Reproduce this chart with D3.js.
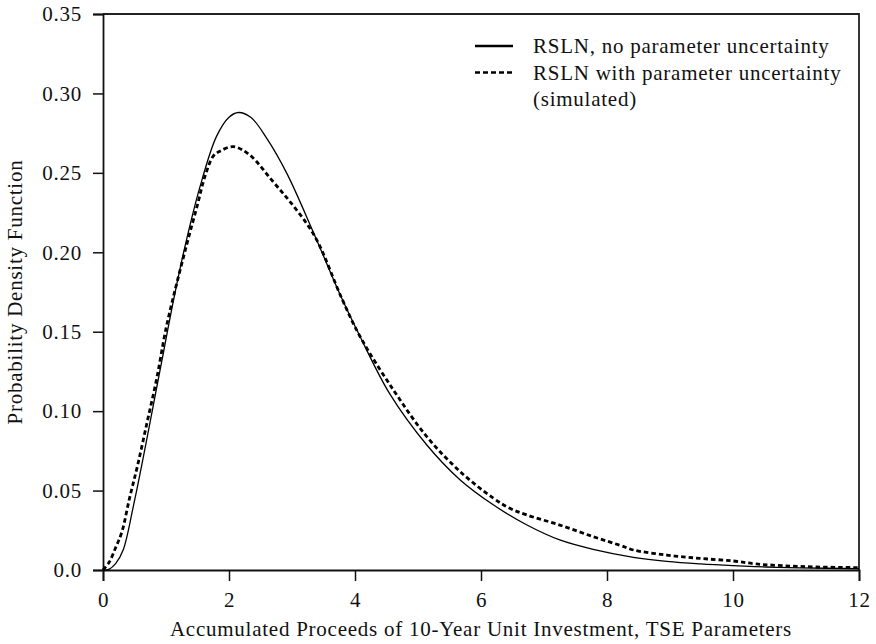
<!DOCTYPE html>
<html>
<head>
<meta charset="utf-8">
<script src="https://cdn.jsdelivr.net/npm/d3@7/dist/d3.min.js"></script>
<style>
  body { margin: 0; background: #fff; }
  text { font-family: "Liberation Serif", "Times New Roman", serif; fill: #111; letter-spacing: 0.75px; }
</style>
</head>
<body>
<div id="chart"></div>
<script>
// RSLN, no parameter uncertainty (solid)
var solidX = [0, 0.1, 0.2, 0.32, 0.48, 0.64, 0.8, 0.96, 1.1, 1.28, 1.54, 1.8, 2.0, 2.15, 2.35, 2.6, 2.92, 3.34, 3.79, 4.08, 4.55, 5.14, 5.67, 6.2, 6.73, 7.25, 7.78, 8.42, 8.95, 9.48, 10, 10.53, 11.06, 12];
var solidY = [0, 0.0006, 0.004, 0.0126, 0.0398, 0.071, 0.104, 0.137, 0.166, 0.2, 0.2413, 0.2728, 0.285, 0.288, 0.2848, 0.2717, 0.2495, 0.2125, 0.171, 0.147, 0.111, 0.0787, 0.0567, 0.0409, 0.0283, 0.0189, 0.013, 0.008, 0.0054, 0.0038, 0.0027, 0.0019, 0.0014, 0.0008];

// RSLN with parameter uncertainty, simulated (dashed)
var dashX = [0, 0.1, 0.2, 0.3, 0.42, 0.55, 0.7, 0.85, 1.0, 1.13, 1.33, 1.5, 1.62, 1.75, 1.85, 2.07, 2.33, 2.7, 2.97, 3.23, 3.42, 3.79, 4.08, 4.61, 5.14, 5.67, 6.2, 6.46, 6.73, 7.25, 7.78, 8.21, 8.42, 8.95, 9.48, 10, 10.37, 10.8, 11.33, 12];
var dashY = [0, 0.005, 0.014, 0.024, 0.045, 0.066, 0.093, 0.12, 0.152, 0.174, 0.205, 0.23, 0.248, 0.2605, 0.2635, 0.2665, 0.2612, 0.2444, 0.2318, 0.2182, 0.2057, 0.171, 0.147, 0.1133, 0.0839, 0.0619, 0.0451, 0.0388, 0.0346, 0.0283, 0.021, 0.0155, 0.0126, 0.0094, 0.0073, 0.0057, 0.0038, 0.0027, 0.0019, 0.0015];

var xTicks = [0, 2, 4, 6, 8, 10, 12];
var yTicks = [0, 0.05, 0.10, 0.15, 0.20, 0.25, 0.30, 0.35];
var yTickLabels = ["0.0", "0.05", "0.10", "0.15", "0.20", "0.25", "0.30", "0.35"];
var legendLabels = ["RSLN, no parameter uncertainty", "RSLN with parameter uncertainty", "(simulated)"];
var xTitle = "Accumulated Proceeds of 10-Year Unit Investment, TSE Parameters";
var yTitle = "Probability Density Function";

var width = 876,
    height = 644,
    margin = {top: 14, right: 17, bottom: 74, left: 103};
var innerW = width - margin.left - margin.right,
    innerH = height - margin.top - margin.bottom;

var svg = d3.select("#chart").append("svg")
    .attr("width", width)
    .attr("height", height);

var g = svg.append("g")
    .attr("transform", "translate(" + margin.left + "," + margin.top + ")");

var x = d3.scaleLinear().domain([0, 12]).range([0, innerW]);
var y = d3.scaleLinear().domain([0, 0.35]).range([innerH, 0]);

// frame: top and right edges
g.append("path")
  .attr("d", "M0,0H" + innerW + "V" + innerH)
  .attr("fill", "none")
  .attr("stroke", "#222")
  .attr("stroke-width", 1.8);

var xAxis = g.append("g")
  .attr("transform", "translate(0," + innerH + ")")
  .call(d3.axisBottom(x).tickValues(xTicks).tickSize(11).tickPadding(11).tickFormat(d3.format("d")));

var yAxis = g.append("g")
  .call(d3.axisLeft(y).tickValues(yTicks).tickSize(10).tickPadding(11)
        .tickFormat(function(d, i) { return yTickLabels[i]; }));

[xAxis, yAxis].forEach(function(ax) {
  ax.select(".domain").attr("stroke", "#111").attr("stroke-width", 1.8);
  ax.selectAll(".tick line").attr("stroke", "#111").attr("stroke-width", 1.5);
  ax.selectAll(".tick text")
    .style("font-family", "'Liberation Serif', serif")
    .style("font-size", "21px")
    .attr("fill", "#111");
});

var line = d3.line()
  .x(function(d) { return x(d[0]); })
  .y(function(d) { return y(d[1]); })
  .curve(d3.curveCatmullRom.alpha(0.5));

var solidData = solidX.map(function(v, i) { return [v, solidY[i]]; });
var dashData = dashX.map(function(v, i) { return [v, dashY[i]]; });

g.append("path")
  .datum(dashData)
  .attr("d", line)
  .attr("fill", "none")
  .attr("stroke", "#000")
  .attr("stroke-width", 2.8)
  .attr("stroke-dasharray", "4.5,3");

g.append("path")
  .datum(solidData)
  .attr("d", line)
  .attr("fill", "none")
  .attr("stroke", "#000")
  .attr("stroke-width", 1.3);

// legend
var leg = svg.append("g").attr("transform", "translate(475,0)");
var rowY = [53, 79.5, 106];
leg.append("line")
  .attr("x1", 0).attr("x2", 38)
  .attr("y1", rowY[0] - 7).attr("y2", rowY[0] - 7)
  .attr("stroke", "#000").attr("stroke-width", 2.4);
leg.append("line")
  .attr("x1", 0).attr("x2", 38)
  .attr("y1", rowY[1] - 7).attr("y2", rowY[1] - 7)
  .attr("stroke", "#000").attr("stroke-width", 2.4)
  .attr("stroke-dasharray", "5,3");
leg.selectAll("text.lab")
  .data(legendLabels)
  .enter().append("text")
  .attr("class", "lab")
  .attr("x", 58)
  .attr("y", function(d, i) { return rowY[i]; })
  .style("font-size", "21px")
  .text(function(d) { return d; });

// axis titles
svg.append("text")
  .attr("x", margin.left + innerW / 2)
  .attr("y", 636)
  .attr("text-anchor", "middle")
  .style("font-size", "21px")
  .text(xTitle);

svg.append("text")
  .attr("transform", "translate(22," + (margin.top + innerH / 2) + ") rotate(-90)")
  .attr("text-anchor", "middle")
  .style("font-size", "21px")
  .text(yTitle);
</script>
</body>
</html>
